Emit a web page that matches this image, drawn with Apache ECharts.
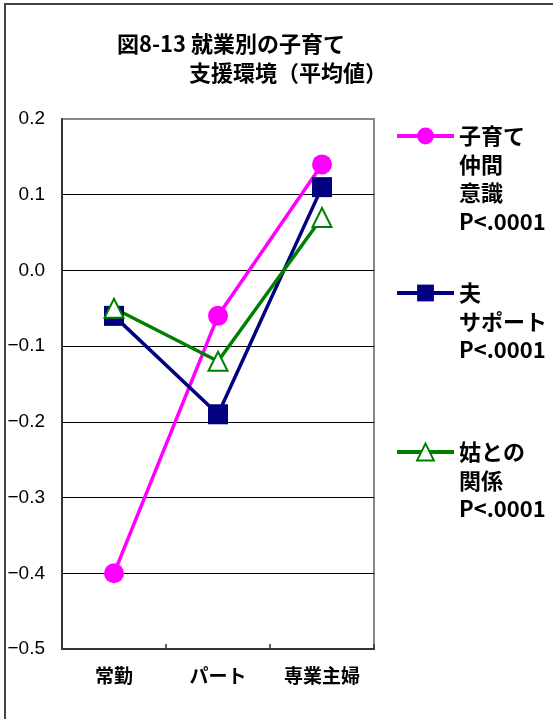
<!DOCTYPE html>
<html>
<head>
<meta charset="utf-8">
<script src="https://cdn.jsdelivr.net/npm/echarts@6/dist/echarts.min.js"></script>
<style>
  html, body { margin: 0; padding: 0; background: #fff; }
  #chart { width: 553px; height: 719px; }
</style>
</head>
<body>
<div id="chart"></div>
<script>
// Categories (employment type) and mean scores per support measure
const categories = ['常勤', 'パート', '専業主婦'];
const nakamaValues = [-0.40, -0.06, 0.14];   // 子育て仲間意識
const ottoValues = [-0.06, -0.19, 0.11];     // 夫サポート
const shutomeValues = [-0.05, -0.12, 0.07];  // 姑との関係

const seriesNames = ['子育て仲間意識', '夫サポート', '姑との関係'];
const legendLabels = ['子育て\n仲間\n意識\nP<.0001', '夫\nサポート\nP<.0001', '姑との\n関係\nP<.0001'];

const yMin = -0.5, yMax = 0.2, yStep = 0.1;

const JP = '"Noto Sans CJK JP", "Noto Sans", sans-serif';
const LEG_LH = 28.5;

// legend item text is vertically centred on its icon; pad the top with
// blank lines so the icon sits beside the first line of the label
function legendText(label) {
  const n = label.split('\n').length;
  return '\n'.repeat(n - 1) + label;
}
function legendTop(label, iconY) {
  const n = label.split('\n').length;
  return iconY - (2 * n - 1) * LEG_LH / 2;
}
const legendIconY = [136, 293, 452];

const chart = echarts.init(document.getElementById('chart'));

const legends = seriesNames.map((name, i) => ({
  data: [name],
  left: 395,
  top: legendTop(legendLabels[i], legendIconY[i]),
  padding: 0,
  itemWidth: 57,
  itemHeight: 21,
  selectedMode: false,
  lineStyle: { width: 4 },
  formatter: () => legendText(legendLabels[i]),
  textStyle: {
    fontFamily: JP,
    fontWeight: 'bold',
    fontSize: 22,
    lineHeight: LEG_LH,
    color: '#000'
  }
}));

chart.setOption({
  backgroundColor: '#fff',
  animation: false,
  title: [
    {
      text: '図8-13 就業別の子育て',
      left: 117, top: 33, padding: 0,
      textStyle: { fontFamily: JP, fontWeight: 'bold', fontSize: 22, color: '#000' }
    },
    {
      text: '支援環境（平均値）',
      left: 189, top: 62, padding: 0,
      textStyle: { fontFamily: JP, fontWeight: 'bold', fontSize: 22, color: '#000' }
    }
  ],
  graphic: [
    {
      type: 'rect',
      shape: { x: 5, y: 4, width: 700, height: 800 },
      style: { fill: 'none', stroke: '#444', lineWidth: 2 },
      silent: true
    }
  ],
  legend: legends,
  grid: {
    left: 62, right: 179, top: 119, bottom: 70,
    show: true,
    borderColor: '#888',
    borderWidth: 2,
    backgroundColor: '#fff'
  },
  xAxis: {
    type: 'category',
    data: categories,
    boundaryGap: true,
    axisLine: { onZero: false, lineStyle: { color: '#333', width: 2 } },
    axisTick: { show: true, inside: true, length: 5, lineStyle: { color: '#333', width: 1.5 } },
    axisLabel: {
      margin: 17,
      fontFamily: JP,
      fontWeight: 'bold',
      fontSize: 19,
      color: '#000'
    }
  },
  yAxis: {
    type: 'value',
    min: yMin, max: yMax, interval: yStep,
    axisLine: { show: true, lineStyle: { color: '#333', width: 2 } },
    axisTick: { show: false },
    splitLine: { show: true, showMaxLine: false, lineStyle: { color: '#000', width: 1 } },
    axisLabel: {
      margin: 17,
      fontFamily: '"Liberation Sans", Arial, sans-serif',
      fontSize: 19,
      color: '#000',
      formatter: v => v.toFixed(1).replace('-', '\u2212')
    }
  },
  series: [
    {
      name: seriesNames[0],
      type: 'line',
      data: nakamaValues,
      symbol: 'circle',
      symbolSize: 20,
      color: '#ff00ff',
      lineStyle: { color: '#ff00ff', width: 3.5 },
      itemStyle: { color: '#ff00ff' }
    },
    {
      name: seriesNames[1],
      type: 'line',
      data: ottoValues,
      symbol: 'rect',
      symbolSize: 20,
      color: '#000080',
      lineStyle: { color: '#000080', width: 3.5 },
      itemStyle: { color: '#000080' }
    },
    {
      name: seriesNames[2],
      type: 'line',
      data: shutomeValues,
      symbol: 'triangle',
      symbolSize: 19,
      color: '#008000',
      lineStyle: { color: '#008000', width: 3.5 },
      itemStyle: { color: '#fff', borderColor: '#008000', borderWidth: 2 }
    }
  ]
});
</script>
</body>
</html>
